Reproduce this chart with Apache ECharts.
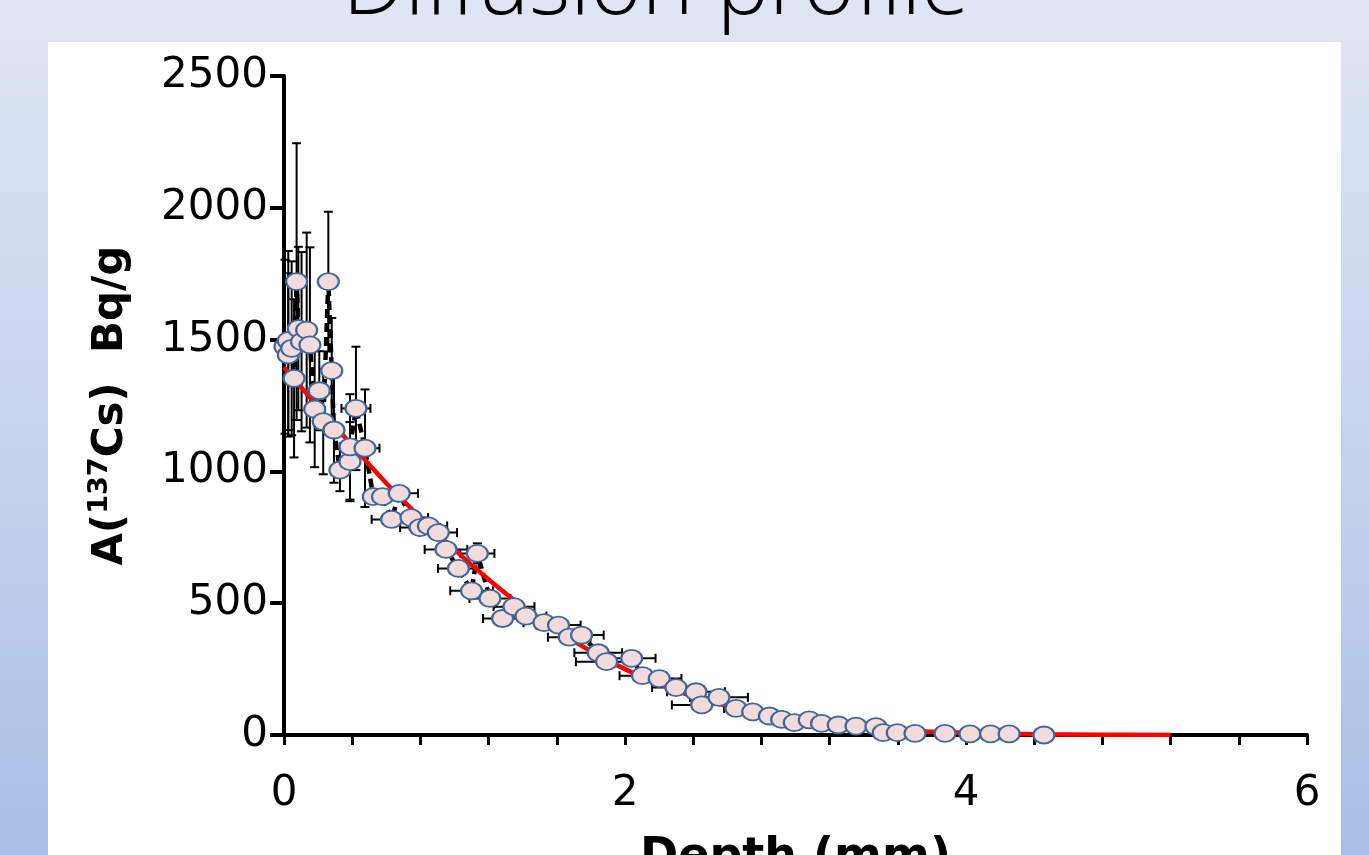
<!DOCTYPE html>
<html><head><meta charset="utf-8">
<script src="https://cdn.jsdelivr.net/npm/echarts@6.0.0/dist/echarts.min.js"></script>
<style>html,body{margin:0;padding:0;width:1369px;height:855px;overflow:hidden}#c{width:1369px;height:855px}</style>
</head><body><div id="c"></div><script>
// Measured points (depth in mm, activity in Bq/g) with error bars
const depth = [0.006,0.025,0.025,0.045,0.059,0.074,0.084,0.103,0.133,0.152,0.18,0.207,0.23,0.26,0.28,0.293,0.328,0.387,0.387,0.422,0.475,0.524,0.578,0.631,0.676,0.745,0.798,0.847,0.905,0.95,1.023,1.10,1.134,1.208,1.282,1.349,1.419,1.525,1.61,1.673,1.745,1.843,1.892,2.039,2.103,2.201,2.299,2.416,2.45,2.551,2.651,2.749,2.847,2.919,2.993,3.081,3.153,3.251,3.355,3.472,3.515,3.597,3.701,3.877,4.023,4.144,4.253,4.457];
const activity = [1473,1496,1442,1467,1353,1720,1542,1492,1536,1480,1236,1306,1189,1720,1382,1157,1005,1037,1093,1239,1088,904,904,818,917,825,787,793,768,704,632,547,689,518,442,487,451,426,417,371,379,312,278,291,225,214,180,164,114,143,101,88,72,59,47,57,44,38,34,32,9,9,6,6,4,4,4,0];
const depthErr = [0,0,0,0,0,0,0,0,0,0,0,0,0,0,0,0,0,0.05,0.06,0.085,0.085,0.05,0.06,0.117,0.11,0.1,0.117,0.11,0.11,0.125,0.12,0.125,0.1,0.12,0.115,0.12,0.12,0.12,0.13,0.125,0.13,0.14,0.18,0.14,0.135,0.13,0.14,0.17,0.175,0.17,0.07,0.05,0.05,0.05,0.04,0.04,0,0,0,0,0,0,0,0,0,0,0,0];
const activityErr = [330,340,310,330,300,525,310,340,370,370,220,150,200,265,200,200,80,150,200,234,223,0,0,0,0,0,0,0,0,0,0,0,38,0,0,0,0,0,0,0,0,0,0,0,0,0,0,0,0,0,0,0,0,0,0,0,0,0,0,0,0,0,0,0,0,0,0,0];
// Fitted curve (red)
const fitDepth = [0,0.2,0.4,0.6,0.8,1.0,1.2,1.4,1.6,1.8,2.0,2.2,2.4,2.6,2.8,3.0,3.2,3.4,3.6,3.8,4.0,4.4,4.8,5.2];
const fitActivity = [1395,1245,1098,955,825,703,590,487,397,318,250,193,146,110,80,57,40,28,19,12,8,3,1,0];
// Tick labels
const xTickLabels = ['0','2','4','6'];
const yTickLabels = ['0','500','1000','1500','2000','2500'];

const pts = depth.map((d,i)=>[d, activity[i], depthErr[i], activityErr[i]]);
const fit = fitDepth.map((d,i)=>[d, fitActivity[i]]);

const chart = echarts.init(document.getElementById('c'));
const ellipse = 'path://M0,10 A10,10 0 1,1 20,10 A10,10 0 1,1 0,10 Z';

chart.setOption({
  animation:false,
  backgroundColor:{type:'linear',x:0,y:0,x2:0,y2:1,colorStops:[{offset:0,color:'#dfe6f3'},{offset:0.5,color:'#c7d4ee'},{offset:1,color:'#a9bee6'}]},
  graphic:[
    {type:'rect', z:-1, shape:{x:48,y:42,width:1293,height:820}, style:{fill:'#ffffff'}},
    {type:'text', z:10, x:656, y:-11, style:{text:'Diffusion profile', font:'300 88px "Open Sans"', fill:'#000', align:'center', verticalAlign:'middle'}}
  ],
  grid:{left:284,right:62,top:76,bottom:120,outerBoundsMode:'none',containLabel:false},
  xAxis:{
    type:'value', min:0, max:6, interval:0.4,
    axisLine:{lineStyle:{color:'#000',width:4}},
    axisTick:{length:10,lineStyle:{color:'#000',width:3}},
    splitLine:{show:false},
    axisLabel:{margin:38,color:'#000',fontSize:42,fontFamily:'DejaVu Sans',showMaxLabel:true,
      formatter:v=>{const k=Math.round(v/2); return Math.abs(v-2*k)<1e-6 ? xTickLabels[k] : '';}},
    name:'Depth (mm)', nameLocation:'middle', nameGap:100,
    nameTextStyle:{color:'#000',fontSize:46,fontWeight:'bold',fontFamily:'DejaVu Sans'}
  },
  yAxis:{
    type:'value', min:0, max:2500, interval:500,
    axisLine:{show:true,lineStyle:{color:'#000',width:4}},
    axisTick:{show:true,length:14,lineStyle:{color:'#000',width:4}},
    splitLine:{show:false},
    axisLabel:{margin:16,color:'#000',fontSize:42,fontFamily:'DejaVu Sans',
      formatter:v=>yTickLabels[Math.round(v/500)]},
    name:'{a|A(}{s|137}{a|Cs)  Bq/g}', nameLocation:'middle', nameRotate:90, nameGap:148,
    nameTextStyle:{rich:{
      a:{color:'#000',fontSize:42,fontWeight:'bold',fontFamily:'DejaVu Sans',lineHeight:50},
      s:{color:'#000',fontSize:27,fontWeight:'bold',fontFamily:'DejaVu Sans',lineHeight:50,verticalAlign:'top'}
    }}
  },
  series:[
    {type:'line', z:2, data:pts.map(p=>[p[0],p[1]]), showSymbol:false, symbol:'none',
      lineStyle:{color:'#000',width:4.5,type:[9,5]}},
    {type:'custom', z:3, silent:true, data:pts, encode:{x:0,y:1},
      renderItem:(params, api)=>{
        const x=api.value(0), y=api.value(1), xe=api.value(2), ye=api.value(3);
        const st={stroke:'#000',lineWidth:2};
        const ch=[];
        if(ye>0){
          const a=api.coord([x,y+ye]), b=api.coord([x,y-ye]);
          ch.push({type:'line',shape:{x1:a[0],y1:a[1],x2:b[0],y2:b[1]},style:st});
          ch.push({type:'line',shape:{x1:a[0]-4.5,y1:a[1],x2:a[0]+4.5,y2:a[1]},style:st});
          ch.push({type:'line',shape:{x1:b[0]-4.5,y1:b[1],x2:b[0]+4.5,y2:b[1]},style:st});
        }
        if(xe>0){
          const a=api.coord([x-xe,y]), b=api.coord([x+xe,y]);
          ch.push({type:'line',shape:{x1:a[0],y1:a[1],x2:b[0],y2:b[1]},style:st});
          ch.push({type:'line',shape:{x1:a[0],y1:a[1]-4.5,x2:a[0],y2:a[1]+4.5},style:st});
          ch.push({type:'line',shape:{x1:b[0],y1:b[1]-4.5,x2:b[0],y2:b[1]+4.5},style:st});
        }
        return {type:'group',children:ch};
      }},
    {type:'line', z:4, data:fit, smooth:0.3, showSymbol:false, symbol:'none',
      lineStyle:{color:'#ff0000',width:4.5}},
    {type:'scatter', z:5, data:pts.map(p=>[p[0],p[1]]), symbol:ellipse, symbolSize:[21,17],
      itemStyle:{color:'#f2dcdb',borderColor:'#41679a',borderWidth:2,opacity:1}}
  ]
});
</script></body></html>
